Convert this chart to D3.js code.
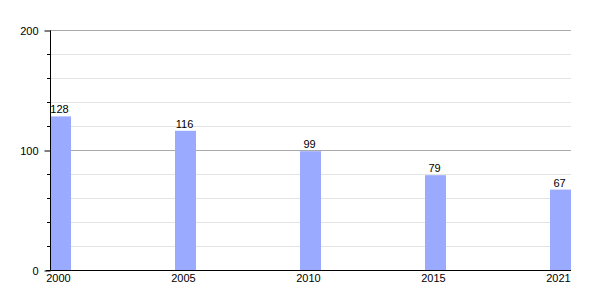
<!DOCTYPE html>
<html>
<head>
<meta charset="utf-8">
<script src="https://cdn.jsdelivr.net/npm/d3@7"></script>
<style>
  body { margin: 0; background: #fff; }
  text { font-family: "Liberation Sans", Arial, sans-serif; font-size: 11px; fill: #000; }
</style>
</head>
<body>
<svg width="600" height="300"></svg>
<script>
var years = ["2000", "2005", "2010", "2015", "2021"];
var values = [128, 116, 99, 79, 67];
var yTicks = [0, 100, 200];

var svg = d3.select("svg"),
    plotLeft = 50, plotRight = 571, plotTop = 30, plotBottom = 270,
    barW = 21;

// left edge of each bar
var x = d3.scalePoint()
    .domain(years)
    .range([plotLeft, plotRight - barW]);

var y = d3.scaleLinear()
    .domain([0, 200])
    .range([plotBottom, plotTop]);

var minor = d3.range(20, 200, 20).filter(function(d) { return d % 100; });

// minor grid every 20
svg.append("g")
  .selectAll("line")
  .data(minor)
  .enter().append("line")
    .attr("x1", plotLeft).attr("x2", plotRight)
    .attr("y1", function(d) { return y(d) + 0.5; })
    .attr("y2", function(d) { return y(d) + 0.5; })
    .attr("stroke", "#e3e3e3");

// major grid
svg.append("g")
  .selectAll("line")
  .data([100, 200])
  .enter().append("line")
    .attr("x1", plotLeft).attr("x2", plotRight)
    .attr("y1", function(d) { return y(d) + 0.5; })
    .attr("y2", function(d) { return y(d) + 0.5; })
    .attr("stroke", "#aaaaaa");

// bars
svg.append("g")
  .selectAll("rect")
  .data(values)
  .enter().append("rect")
    .attr("x", function(d, i) { return x(years[i]); })
    .attr("y", function(d) { return y(d); })
    .attr("width", barW)
    .attr("height", function(d) { return plotBottom - y(d); })
    .attr("fill", "#99aaff");

// value labels
svg.append("g")
  .selectAll("text")
  .data(values)
  .enter().append("text")
    .attr("x", function(d, i) { return x(years[i]) + barW / 2 - 1; })
    .attr("y", function(d) { return y(d) - 3; })
    .attr("text-anchor", "middle")
    .text(function(d) { return d; });

// y axis
var yAxis = svg.append("g")
    .attr("transform", "translate(" + (plotLeft + 0.5) + ",0.5)")
    .call(d3.axisLeft(y).tickValues(yTicks).tickSize(6).tickPadding(6));
yAxis.select(".domain").attr("d", "M0," + plotTop + "V" + plotBottom).attr("stroke", "#000");
yAxis.selectAll(".tick line").attr("stroke", "#000");
yAxis.attr("font-family", null).attr("font-size", null);

// minor y ticks
svg.append("g")
  .selectAll("line")
  .data(minor)
  .enter().append("line")
    .attr("x1", plotLeft - 3).attr("x2", plotLeft)
    .attr("y1", function(d) { return y(d) + 0.5; })
    .attr("y2", function(d) { return y(d) + 0.5; })
    .attr("stroke", "#000");

// x axis line
svg.append("line")
    .attr("x1", plotLeft - 4).attr("x2", plotRight)
    .attr("y1", plotBottom + 0.5).attr("y2", plotBottom + 0.5)
    .attr("stroke", "#000");

// x labels
svg.append("g")
  .selectAll("text")
  .data(years)
  .enter().append("text")
    .attr("x", function(d) { return x(d) + barW / 2 - 2; })
    .attr("y", plotBottom + 12)
    .attr("text-anchor", "middle")
    .text(function(d) { return d; });
</script>
</body>
</html>
